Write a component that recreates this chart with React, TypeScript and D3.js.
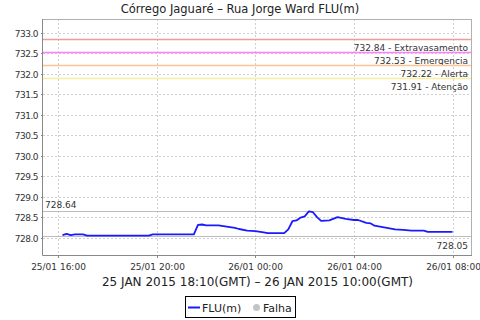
import React from 'react';
import * as d3 from 'd3';

const title = 'Córrego Jaguaré – Rua Jorge Ward FLU(m)';
const subtitle = '25 JAN 2015 18:10(GMT) – 26 JAN 2015 10:00(GMT)';

const times = [
  '25/01 16:10', '25/01 16:20', '25/01 16:30', '25/01 16:40', '25/01 17:00', '25/01 17:10',
  '25/01 19:40', '25/01 19:50', '25/01 21:30', '25/01 21:40', '25/01 21:50', '25/01 22:00',
  '25/01 22:30', '25/01 22:50', '25/01 23:10', '25/01 23:20', '25/01 23:40', '26/01 00:00',
  '26/01 00:20', '26/01 00:30', '26/01 01:10', '26/01 01:20', '26/01 01:30', '26/01 01:40',
  '26/01 01:50', '26/01 02:00', '26/01 02:10', '26/01 02:20', '26/01 02:30', '26/01 02:40',
  '26/01 03:00', '26/01 03:20', '26/01 03:40', '26/01 04:00', '26/01 04:10', '26/01 04:30',
  '26/01 04:40', '26/01 04:50', '26/01 05:20', '26/01 05:40', '26/01 06:00', '26/01 06:20',
  '26/01 06:50', '26/01 07:00', '26/01 08:00',
];
const levels = [
  728.06, 728.09, 728.06, 728.08, 728.08, 728.05,
  728.05, 728.08, 728.08, 728.31, 728.32, 728.30,
  728.30, 728.27, 728.24, 728.21, 728.17, 728.16,
  728.13, 728.11, 728.11, 728.20, 728.40, 728.42,
  728.49, 728.52, 728.64, 728.62, 728.50, 728.41,
  728.42, 728.50, 728.46, 728.43, 728.43, 728.36,
  728.35, 728.29, 728.24, 728.20, 728.19, 728.17,
  728.17, 728.14, 728.14,
];

const thresholdValues = [732.84, 732.53, 732.22, 731.91];
const thresholdNames = ['Extravasamento', 'Emergencia', 'Alerta', 'Atenção'];
const thresholdColors = ['#f09a9a', '#ff80ff', '#fcc490', '#f6eea0'];

const maxValue = 728.64;
const minValue = 728.05;

const xTickTimes = ['25/01 16:00', '25/01 20:00', '26/01 00:00', '26/01 04:00', '26/01 08:00'];
const yTickValues = [728.0, 728.5, 729.0, 729.5, 730.0, 730.5, 731.0, 731.5, 732.0, 732.5, 733.0];
const xDomain = ['25/01 15:22:30', '26/01 08:47:30'];
const yDomain = [727.575, 733.34];

const legendSeries = 'FLU(m)';
const legendFail = 'Falha';

const parse = (s: string) => {
  const [d, t] = s.split(' ');
  const [day, mon] = d.split('/').map(Number);
  const parts = t.split(':').map(Number);
  return new Date(2015, mon - 1, day, parts[0], parts[1], parts[2] || 0);
};

const W = 480, H = 320;
const L = 43, R = 472, T = 19, B = 255;
const FONT = 'DejaVu Sans, sans-serif';

export default function App() {
  const x = d3.scaleTime().domain(xDomain.map(parse)).range([L, R]);
  const y = d3.scaleLinear().domain(yDomain).range([B, T]);
  const fmtX = d3.timeFormat('%d/%m %H:%M');
  const fmtY = d3.format('.1f');
  const data = times.map((t, i) => ({ t: parse(t), v: levels[i] }));
  const line = d3.line<{ t: Date; v: number }>().x(d => x(d.t)).y(d => y(d.v));

  return (
    <svg width={W} height={H} style={{ position: 'absolute', left: 0, top: 0, background: '#fff' }}>
      <rect x={0} y={0} width={W} height={H} fill="#fff" />
      <text x={240} y={12.5} textAnchor="middle" fontFamily={FONT} fontSize={11.5} fill="#222">{title}</text>
      {/* plot background */}
      <rect x={L} y={T} width={R - L} height={B - T} fill="#fff" />
      {/* grid */}
      {xTickTimes.map(s => {
        const xx = Math.round(x(parse(s))) + 0.5;
        return <line key={s} x1={xx} x2={xx} y1={T} y2={B} stroke="#cfcfcf" strokeDasharray="2,2" />;
      })}
      {yTickValues.map(v => {
        const yy = Math.round(y(v)) + 0.5;
        return <line key={v} x1={L} x2={R} y1={yy} y2={yy} stroke="#cfcfcf" strokeDasharray="2,2" />;
      })}
      {/* thresholds */}
      {thresholdValues.map((v, i) => {
        const yy = Math.round(y(v)) + 0.5;
        return (
          <g key={v}>
            <line x1={L} x2={R} y1={yy} y2={yy} stroke={thresholdColors[i]} strokeWidth={1.3} />
            <text x={468} y={yy + 11} textAnchor="end" fontFamily={FONT} fontSize={9} fill="#333">
              {`${v.toFixed(2)} - ${thresholdNames[i]}`}
            </text>
          </g>
        );
      })}
      {/* max / min markers */}
      <line x1={L} x2={R} y1={Math.round(y(maxValue)) + 0.5} y2={Math.round(y(maxValue)) + 0.5} stroke="#bdbdbd" />
      <text x={45} y={y(maxValue) - 3.5} fontFamily={FONT} fontSize={9} fill="#333">{maxValue.toFixed(2)}</text>
      <line x1={L} x2={R} y1={Math.round(y(minValue)) + 0.5} y2={Math.round(y(minValue)) + 0.5} stroke="#bdbdbd" />
      <text x={468} y={y(minValue) + 13} textAnchor="end" fontFamily={FONT} fontSize={9} fill="#333">{minValue.toFixed(2)}</text>
      {/* series */}
      <path d={line(data) || ''} fill="none" stroke="#1a1aff" strokeWidth={1.8} strokeLinejoin="round" />
      {/* border */}
      <line x1={L} x2={R} y1={T + 0.5} y2={T + 0.5} stroke="#b0b0b0" />
      <line x1={R - 0.5} x2={R - 0.5} y1={T} y2={B} stroke="#b0b0b0" />
      <line x1={L - 0.5} x2={L - 0.5} y1={T} y2={B + 0.5} stroke="#888" />
      <line x1={L - 0.5} x2={R} y1={B + 0.5} y2={B + 0.5} stroke="#888" />
      {/* axes */}
      {yTickValues.map(v => {
        const yy = Math.round(y(v)) + 0.5;
        return (
          <g key={v}>
            <line x1={L - 2} x2={L} y1={yy} y2={yy} stroke="#888" />
            <text x={38} y={yy + 3.5} textAnchor="end" fontFamily={FONT} fontSize={9} letterSpacing={-0.5} fill="#333">{fmtY(v)}</text>
          </g>
        );
      })}
      {xTickTimes.map(s => {
        const xx = Math.round(x(parse(s))) + 0.5;
        return (
          <g key={s}>
            <line x1={xx} x2={xx} y1={B} y2={B + 3} stroke="#888" />
            <text x={xx} y={269.5} textAnchor="middle" fontFamily={FONT} fontSize={9} fill="#333">{fmtX(parse(s))}</text>
          </g>
        );
      })}
      <text x={(L + R) / 2} y={286} textAnchor="middle" fontFamily={FONT} fontSize={12} fill="#222">{subtitle}</text>
      {/* legend */}
      <rect x={185.5} y={296.5} width={110} height={21} fill="#fff" stroke="#000" />
      <line x1={188} x2={200} y1={307.5} y2={307.5} stroke="#1a1aff" strokeWidth={2} />
      <text x={202} y={311.5} fontFamily={FONT} fontSize={11} fill="#222">{legendSeries}</text>
      <circle cx={256.5} cy={307.5} r={3.5} fill="#c4c4c4" />
      <text x={263} y={311.5} fontFamily={FONT} fontSize={11} fill="#222">{legendFail}</text>
    </svg>
  );
}
